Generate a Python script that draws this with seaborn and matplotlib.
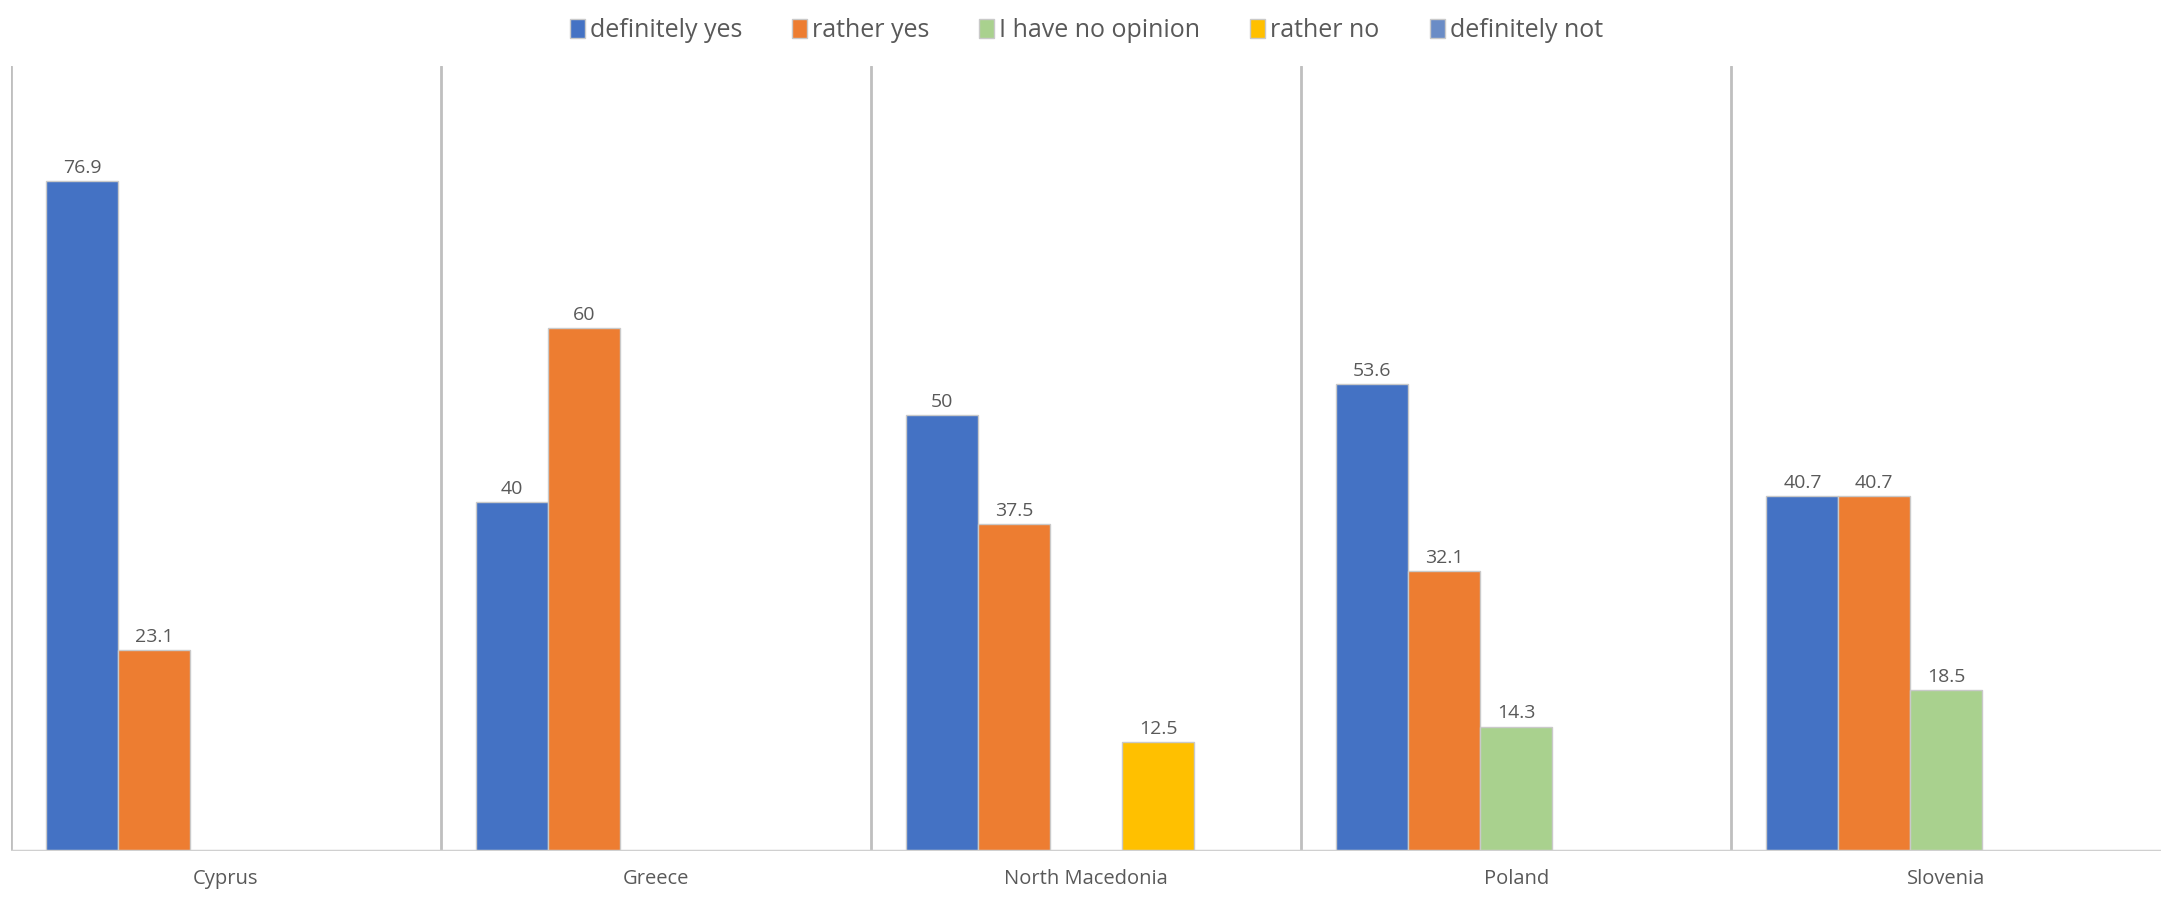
import pandas as pd
import matplotlib
matplotlib.use("Agg")
import matplotlib.pyplot as plt
import seaborn as sns

# ---------------------------------------------------------------------------
# data
# ---------------------------------------------------------------------------
countries = ["Cyprus", "Greece", "North Macedonia", "Poland", "Slovenia"]
answers = ["definitely yes", "rather yes", "I have no opinion", "rather no", "definitely not"]

definitely_yes = [76.9, 40, 50, 53.6, 40.7]
rather_yes = [23.1, 60, 37.5, 32.1, 40.7]
no_opinion = [0, 0, 0, 14.3, 18.5]
rather_no = [0, 0, 12.5, 0, 0]
definitely_not = [0, 0, 0, 0, 0]

colors = ["#4472C4", "#ED7D31", "#A9D18E", "#FFC000", "#6A8CC6"]

series = [definitely_yes, rather_yes, no_opinion, rather_no, definitely_not]
rows = []
for ans, vals in zip(answers, series):
    for c, v in zip(countries, vals):
        rows.append({"country": c, "answer": ans, "value": v})
df = pd.DataFrame(rows)

# ---------------------------------------------------------------------------
# plot
# ---------------------------------------------------------------------------
sns.set_theme(style="white")
plt.rcParams["font.family"] = ["Open Sans", "DejaVu Sans"]

fig = plt.figure(figsize=(21.7, 8.98), dpi=100)
ax = fig.add_axes([0.005, 0.052, 0.991, 0.874])

sns.barplot(data=df, x="country", y="value", hue="answer", order=countries,
            hue_order=answers, palette=colors, width=0.836, ax=ax,
            edgecolor="#c9c9c9", linewidth=1.0, saturation=1, legend=True)

ax.set_ylim(0, 90)
ax.set_xlim(-0.5, len(countries) - 0.5)

# data labels, only for non-empty bars
for cont in ax.containers:
    labels = [f"{b.get_height():g}" if b.get_height() > 0 else "" for b in cont]
    ax.bar_label(cont, labels=labels, padding=3, fontsize=14, color="#595959")

# category separators
for i in range(len(countries)):
    ax.axvline(i - 0.5, color="#bfbfbf", linewidth=2, zorder=0)
ax.axhline(0, color="#d0d0d0", linewidth=2.5, zorder=3)

for s in ["top", "right", "left", "bottom"]:
    ax.spines[s].set_visible(False)
ax.set_yticks([])
ax.set_xlabel("")
ax.set_ylabel("")
ax.tick_params(axis="x", length=0, pad=13, labelsize=14.5, labelcolor="#595959")

ax.legend(loc="upper center", bbox_to_anchor=(0.5, 1.09), ncol=5, frameon=False,
          fontsize=18, handlelength=0.6, handleheight=0.8, handletextpad=0.2,
          columnspacing=2.0, labelcolor="#595959")

fig.savefig("out.png", dpi=100)
